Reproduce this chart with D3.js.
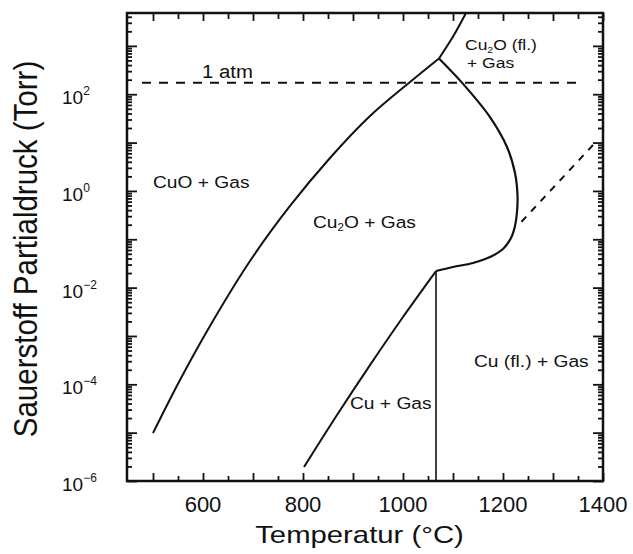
<!DOCTYPE html>
<html>
<head>
<meta charset="utf-8">
<script src="https://cdn.jsdelivr.net/npm/d3@7"></script>
<style>
body { margin: 0; background: #fff; }
text { font-family: "Liberation Sans", Arial, Helvetica, sans-serif; fill: #111; }
</style>
</head>
<body>
<script>
var width = 633,
  height = 554;
var margin = {top: 13, right: 30, bottom: 73, left: 127};
var iw = width - margin.left - margin.right,
  ih = height - margin.top - margin.bottom;

// temperature (°C) / O2 partial pressure (Torr)
var cuoT = [500, 554, 614, 694, 774, 854, 934, 1014, 1072];
var cuoP = [9.8e-6, 1.23e-4, 1.61e-3, 0.0355, 0.488, 4.8, 35.4, 179, 550];

var meltT = [1072, 1101, 1126];
var meltP = [550, 1620, 4800];

var liqT = [1072, 1117, 1174, 1208, 1224, 1229, 1228, 1224, 1216, 1200, 1174, 1140, 1100, 1066];
var liqP = [550, 178, 33.7, 8.1, 2.34, 0.82, 0.366, 0.188, 0.106, 0.0628, 0.043, 0.0323, 0.0267, 0.022];

var cuT = [802, 868, 934, 1000, 1066];
var cuP = [1.95e-6, 2.32e-5, 2.5e-4, 2.47e-3, 0.022];

var cuMeltT = [1066, 1066];
var cuMeltP = [0.022, 1e-6];

var extT = [1237, 1380];
var extP = [0.23, 8.9];

var atmT = [478, 1362];
var atmP = [172, 172];

var xTickLabels = [600, 800, 1000, 1200, 1400];
var yTickLabelExp = [-6, -4, -2, 0, 2];

var svg = d3.select('body').append('svg')
  .attr('width', width)
  .attr('height', height);

var g = svg.append('g')
  .attr('transform', 'translate(' + margin.left + ',' + margin.top + ')');

var x = d3.scaleLinear().domain([448, 1400]).range([0, iw]);
var y = d3.scaleLog().domain([1e-6, Math.pow(10, 3.68)]).range([ih, 0]);

svg.append('defs').append('clipPath').attr('id', 'clip')
  .append('rect').attr('width', iw).attr('height', ih);

var line = d3.line()
  .x(function(d) { return x(d[0]); })
  .y(function(d) { return y(d[1]); })
  .curve(d3.curveCatmullRom.alpha(0.5));

var plot = g.append('g').attr('clip-path', 'url(#clip)');

function curve(T, P, w, dash) {
  var p = plot.append('path')
    .datum(d3.zip(T, P))
    .attr('d', line)
    .attr('fill', 'none')
    .attr('stroke', '#111')
    .attr('stroke-width', w)
    .attr('stroke-linejoin', 'round');
  if (dash) p.attr('stroke-dasharray', dash);
  return p;
}

curve(cuoT, cuoP, 2);
curve(meltT, meltP, 2);
curve(liqT, liqP, 2.2);
curve(cuT, cuP, 2);
curve(cuMeltT, cuMeltP, 1.6);
curve(extT, extP, 2, '7,7');
curve(atmT, atmP, 2, '9,8');

// ticks, all pointing inwards
var xMajor = d3.range(500, 1401, 100);
var xMinor = d3.range(550, 1400, 100);
var yMajor = d3.range(-6, 4).map(function(e) { return Math.pow(10, e); });
var yMinor = [];
d3.range(-6, 4).forEach(function(e) {
  for (var m = 2; m <= 9; m++) {
    var v = m * Math.pow(10, e);
    if (v < y.domain()[1]) yMinor.push(v);
  }
});

function ticks(axis, tr) {
  var a = g.append('g').attr('transform', tr).call(axis.tickFormat(''));
  a.select('.domain').remove();
  a.selectAll('line').attr('stroke', '#111').attr('stroke-width', 1.8);
}

ticks(d3.axisBottom(x).tickValues(xMajor).tickSize(-8), 'translate(0,' + ih + ')');
ticks(d3.axisBottom(x).tickValues(xMinor).tickSize(-5), 'translate(0,' + ih + ')');
ticks(d3.axisTop(x).tickValues(xMajor).tickSize(-8), 'translate(0,0)');
ticks(d3.axisTop(x).tickValues(xMinor).tickSize(-6), 'translate(0,0)');
ticks(d3.axisLeft(y).tickValues(yMajor).tickSize(-10), 'translate(0,0)');
ticks(d3.axisLeft(y).tickValues(yMinor).tickSize(-5), 'translate(0,0)');
ticks(d3.axisRight(y).tickValues(yMajor).tickSize(-10), 'translate(' + iw + ',0)');
ticks(d3.axisRight(y).tickValues(yMinor).tickSize(-5), 'translate(' + iw + ',0)');

g.append('rect')
  .attr('width', iw)
  .attr('height', ih)
  .attr('fill', 'none')
  .attr('stroke', '#111')
  .attr('stroke-width', 2.5);

// tick labels
g.selectAll('.xl')
  .data(xTickLabels)
  .enter().append('text')
    .attr('x', function(d) { return x(d); })
    .attr('y', ih + 31)
    .attr('text-anchor', 'middle')
    .attr('font-size', 22)
    .text(function(d) { return d; });

var yl = g.selectAll('.yl')
  .data(yTickLabelExp)
  .enter().append('text')
    .attr('x', -65)
    .attr('y', function(d) { return y(Math.pow(10, d)) + 10; })
    .attr('font-size', 19);
yl.append('tspan').text('10');
yl.append('tspan')
  .attr('font-size', 12)
  .attr('dy', -9)
  .text(function(d) { return d < 0 ? '\u2212' + (-d) : d; });

// axis titles
svg.append('text')
  .attr('transform', 'translate(' + (margin.left + x(913)) + ',543) scale(1.22,1)')
  .attr('text-anchor', 'middle')
  .attr('font-size', 24)
  .text('Temperatur (\u00b0C)');

svg.append('text')
  .attr('transform', 'translate(37,249) rotate(-90) scale(1,1.13)')
  .attr('text-anchor', 'middle')
  .attr('font-size', 29.5)
  .text('Sauerstoff Partialdruck (Torr)');

// region labels
function label(T, P, size, parts) {
  var t = g.append('text')
    .attr('transform', 'translate(' + x(T) + ',' + y(P) + ') scale(1.13,1)')
    .attr('font-size', size);
  parts.forEach(function(p) {
    var s = t.append('tspan').text(p[0]);
    if (p[1] === 'sub') s.attr('font-size', size * 0.6).attr('dy', 3);
    if (p[1] === 'back') s.attr('dy', -3);
  });
}

label(598, 172 * 1.27, 18, [['1 atm']]);
label(500, 1.16, 17, [['CuO + Gas']]);
label(820, 0.174, 17, [['Cu'], ['2', 'sub'], ['O + Gas', 'back']]);
label(894, 3.1e-5, 17, [['Cu + Gas']]);
label(1142, 2.3e-4, 17, [['Cu (fl.) + Gas']]);
label(1124, 830, 15.5, [['Cu'], ['2', 'sub'], ['O (fl.)', 'back']]);
label(1128, 355, 15.5, [['+ Gas']]);
</script>
</body>
</html>
